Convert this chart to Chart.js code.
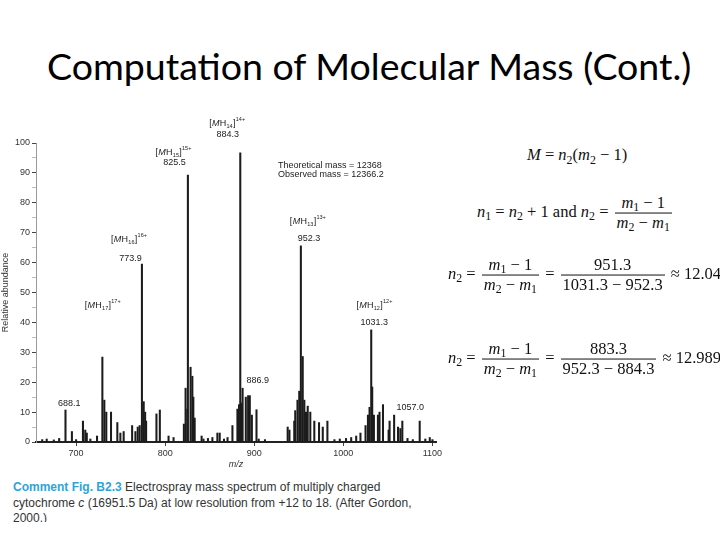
<!DOCTYPE html>
<html>
<head>
<meta charset="utf-8">
<script src="https://cdn.jsdelivr.net/npm/chart.js@4.4.1/dist/chart.umd.min.js"></script>
<style>
  body { margin: 0; width: 720px; height: 540px; background: #fff; position: relative; overflow: hidden; }
  #title { position: absolute; left: 47px; top: 46px; font-family: Lato, "Open Sans", sans-serif; font-size: 37.5px; line-height: 40px; color: #000; white-space: nowrap; }
  #chartBox { position: absolute; left: 0; top: 90px; width: 450px; height: 382px; }
  .eq { position: absolute; transform: translateY(-50%); font-family: "Liberation Serif", serif; font-size: 16.5px; color: #111; white-space: nowrap; line-height: 1.2; }
  .eq sub { font-size: 0.72em; vertical-align: -0.3em; line-height: 0; }
  .frac { display: inline-block; vertical-align: middle; text-align: center; margin: 0 2px; }
  .frac > span { display: block; padding: 0 2px; line-height: 1.15; }
  .frac > .den { border-top: 1.2px solid #111; }
  #caption { position: absolute; left: 13px; top: 480px; width: 440px; height: 42px; overflow: hidden; font-family: "Liberation Sans", Arial, sans-serif; font-size: 12px; line-height: 15.5px; color: #333; white-space: nowrap; }
  #caption b { color: #2fa3d6; }
</style>
</head>
<body>
<div id="title">Computation of Molecular Mass (Cont.)</div>
<div id="chartBox"><canvas id="spectrum"></canvas></div>

<div class="eq" style="left:527px;top:155px"><i>M</i> = <i>n</i><sub>2</sub>(<i>m</i><sub>2</sub> − 1)</div>
<div class="eq" style="left:477px;top:213px"><i>n</i><sub>1</sub> = <i>n</i><sub>2</sub> + 1 and <i>n</i><sub>2</sub> = <span class="frac"><span><i>m</i><sub>1</sub> − 1</span><span class="den"><i>m</i><sub>2</sub> − <i>m</i><sub>1</sub></span></span></div>
<div class="eq" style="left:448px;top:275px"><i>n</i><sub>2</sub> = <span class="frac"><span><i>m</i><sub>1</sub> − 1</span><span class="den"><i>m</i><sub>2</sub> − <i>m</i><sub>1</sub></span></span> = <span class="frac"><span>951.3</span><span class="den">1031.3 − 952.3</span></span> ≈ 12.04</div>
<div class="eq" style="left:448px;top:359px"><i>n</i><sub>2</sub> = <span class="frac"><span><i>m</i><sub>1</sub> − 1</span><span class="den"><i>m</i><sub>2</sub> − <i>m</i><sub>1</sub></span></span> = <span class="frac"><span>883.3</span><span class="den">952.3 − 884.3</span></span> ≈ 12.989</div>

<div id="caption"><b>Comment Fig. B2.3</b> Electrospray mass spectrum of multiply charged<br>cytochrome <i>c</i> (16951.5 Da) at low resolution from +12 to 18. (After Gordon,<br>2000.)</div>

<script>
// spectrum peaks (m/z, relative abundance %)
const peakMz = [662, 667, 675, 681, 688.1, 695.3, 700, 707.7, 710.3, 712, 716, 723.5,
  729.5, 731.7, 733.9, 739.2, 746.3, 749.7, 753.4, 762.9, 766.6, 769.2, 771.4, 773.9,
  775.9, 777.5, 778.6, 790.2, 794, 803.8, 809.4, 821, 822.9, 824.8, 825.5, 828.5,
  830.5, 831.6, 833.1, 840.9, 843, 848, 853, 858.6, 861.2, 866, 870, 875.5, 881.1,
  882.9, 884.3, 885.5, 886.9, 890.5, 893.1, 895, 897.3, 902.5, 905, 912, 937.5, 939.5,
  944.9, 946, 948.5, 950.5, 952.3, 954.4, 956.2, 958.1, 960, 962.9, 967.4, 972.7,
  976.9, 982.1, 990, 996, 1003, 1008.8, 1014.4, 1019.2, 1024.9, 1027.6, 1029.4, 1031.3,
  1032.4, 1034.3, 1038.8, 1040.6, 1044.5, 1050.8, 1051.9, 1057, 1061.4, 1064, 1066.2,
  1072, 1078, 1085.7, 1092, 1097, 1100];
const peakAbundance = [0.8, 1, 0.7, 1.2, 10.7, 3.5, 0.8, 7, 4, 3, 1, 2,
  28.4, 14, 10, 10, 6.5, 3, 3.5, 5.5, 3.5, 5, 5.5, 59.5,
  13.5, 10, 7, 9.4, 10.7, 2, 1.5, 6, 18, 11, 89.3, 25,
  22, 15, 8, 2, 1, 1.2, 1.5, 3, 3, 1, 1.5, 5.5, 11,
  12.5, 96.7, 13, 18, 15, 15.5, 15.5, 9, 10.8, 1, 0.8, 5, 4,
  7, 10.5, 14, 17, 65.6, 28.6, 14, 10, 12, 10, 7, 6.5,
  5, 7, 0.8, 1, 1.2, 1.5, 2, 3, 5.5, 9, 11.6, 37.5,
  18.4, 9, 9, 10, 12.5, 4, 7, 9, 5, 4.5, 7,
  1.2, 0.8, 7, 1, 1.5, 0.8];

const xTickValues = [700, 800, 900, 1000, 1100];
const yTickValues = [0, 5, 10, 15, 20, 25, 30, 35, 40, 45, 50, 55, 60, 65, 70, 75, 80, 85, 90, 95, 100];

// charge state labels [MHn]n+, anchored in data coordinates
const ionCharge = [14, 15, 16, 17, 13, 12];
const ionLabelMz = [869.7, 809.4, 759.5, 730, 960.3, 1035];
const ionLabelY = [106.4, 96.7, 67.6, 45.8, 73.6, 45.8];

// m/z value labels
const massLabelText = ['884.3', '825.5', '773.9', '952.3', '1031.3', '688.1', '886.9', '1057.0'];
const massLabelMz = [870.2, 810.5, 761, 961.5, 1034.6, 692.3, 904, 1075.2];
const massLabelY = [102.7, 93.6, 61.5, 67.9, 39.8, 13, 20.4, 11.4];

const noteText = ['Theoretical mass = 12368', 'Observed mass = 12366.2'];
const noteMz = 926.6;
const noteY = [92.6, 89.3];

const labelFont = '"Liberation Sans", Arial, sans-serif';

function drawIon(ctx, n, cx, cy) {
    const parts = [
        { t: '[', f: '9px ' + labelFont, dy: 0 },
        { t: 'M', f: 'italic 9px ' + labelFont, dy: 0 },
        { t: 'H', f: '9px ' + labelFont, dy: 0 },
        { t: String(n), f: '5.5px ' + labelFont, dy: 3 },
        { t: ']', f: '9px ' + labelFont, dy: 0 },
        { t: n + '+', f: '5.5px ' + labelFont, dy: -4 }
    ];
    let w = 0;
    for (const p of parts) {
        ctx.font = p.f;
        p.w = ctx.measureText(p.t).width;
        w += p.w + 0.3;
    }
    let x = cx - w / 2;
    ctx.textAlign = 'left';
    for (const p of parts) {
        ctx.font = p.f;
        ctx.fillText(p.t, x, cy + p.dy);
        x += p.w + 0.3;
    }
}

const peakLabels = {
    id: 'peakLabels',
    afterDatasetsDraw(chart) {
        const ctx = chart.ctx;
        const xs = chart.scales.x;
        const ys = chart.scales.y;
        ctx.save();
        ctx.fillStyle = '#222';
        ctx.textBaseline = 'middle';

        ctx.font = '9px ' + labelFont;
        ctx.textAlign = 'center';
        massLabelText.forEach((t, i) => {
            ctx.fillText(t, xs.getPixelForValue(massLabelMz[i]), ys.getPixelForValue(massLabelY[i]));
        });

        ionCharge.forEach((n, i) => {
            drawIon(ctx, n, xs.getPixelForValue(ionLabelMz[i]), ys.getPixelForValue(ionLabelY[i]));
        });

        ctx.font = '9px ' + labelFont;
        ctx.textAlign = 'left';
        noteText.forEach((t, i) => {
            ctx.fillText(t, xs.getPixelForValue(noteMz), ys.getPixelForValue(noteY[i]));
        });
        ctx.restore();
    }
};

const ctx = document.getElementById('spectrum').getContext('2d');

const data = {
    datasets: [{
        label: 'Relative abundance',
        data: peakMz.map((mz, i) => ({ x: mz, y: peakAbundance[i] })),
        backgroundColor: '#1c1c1c',
        borderWidth: 0,
        barThickness: 1.4
    }]
};

const config = {
    type: 'bar',
    data: data,
    options: {
        animation: false,
        responsive: true,
        maintainAspectRatio: false,
        layout: { padding: { top: 53, right: 14, left: 0, bottom: 0 } },
        plugins: {
            legend: { display: false },
            tooltip: { enabled: false }
        },
        scales: {
            x: {
                type: 'linear',
                min: 655,
                max: 1104,
                offset: false,
                afterBuildTicks: scale => { scale.ticks = xTickValues.map(v => ({ value: v })); },
                afterFit: scale => { scale.height = 30; },
                border: { color: '#222', width: 2 },
                grid: { drawOnChartArea: false, offset: false, tickLength: 4, color: '#444' },
                ticks: {
                    padding: 2,
                    color: '#333',
                    font: { size: 9, family: 'Liberation Sans' },
                    callback: v => String(v)
                },
                title: {
                    display: true,
                    text: 'm/z',
                    color: '#333',
                    padding: { top: 1, bottom: 2 },
                    font: { size: 9, style: 'italic', family: 'Liberation Sans' }
                }
            },
            y: {
                min: 0,
                max: 100,
                afterBuildTicks: scale => { scale.ticks = yTickValues.map(v => ({ value: v })); },
                afterFit: scale => { scale.width = 36; },
                border: { color: '#999', width: 1 },
                grid: {
                    drawOnChartArea: false,
                    tickLength: 4,
                    color: c => (c.tick && c.tick.value % 10 === 0) ? '#444' : '#bbb'
                },
                ticks: {
                    padding: 2,
                    color: '#333',
                    font: { size: 9, family: 'Liberation Sans' },
                    callback: v => (v % 10 === 0 ? v : '')
                },
                title: {
                    display: true,
                    text: 'Relative abundance',
                    color: '#333',
                    padding: { top: 0, bottom: 1 },
                    font: { size: 9, family: 'Liberation Sans' }
                }
            }
        }
    },
    plugins: [peakLabels]
};

const spectrumChart = new Chart(ctx, config);
</script>
</body>
</html>
